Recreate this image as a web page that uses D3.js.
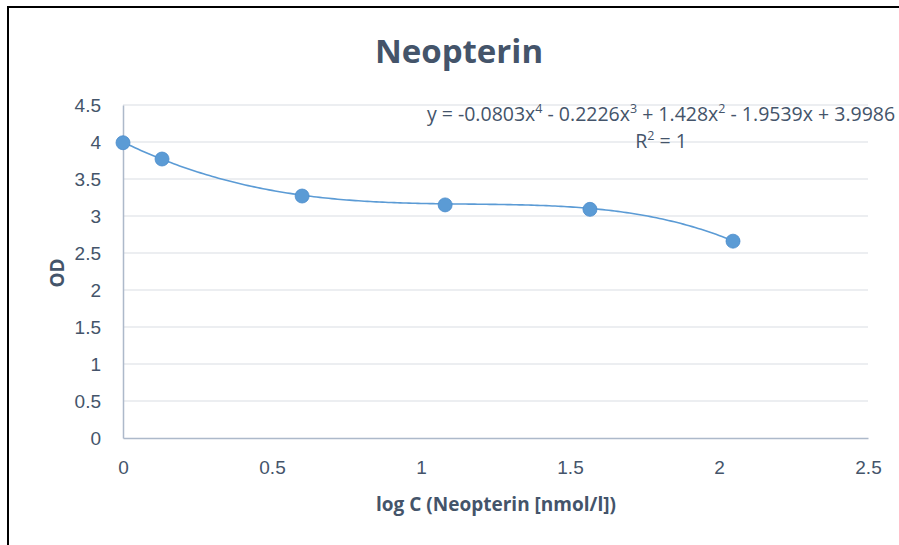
<!DOCTYPE html>
<html>
<head>
<meta charset="utf-8">
<script src="https://cdn.jsdelivr.net/npm/d3@7"></script>
<style>
  html, body { margin: 0; padding: 0; background: #fff; }
  svg { display: block; font-family: "Open Sans", "Noto Sans", sans-serif; }
</style>
</head>
<body>
<div id="chart"></div>
<script>
// values
const logC = [0, 0.131, 0.601, 1.081, 1.567, 2.047];
const od = [3.99, 3.77, 3.27, 3.15, 3.09, 2.66];
// trendline coefficients from the printed equation, constant term first
const trendCoef = [3.9986, -1.9539, 1.428, -0.2226, -0.0803];
const xTicks = [0, 0.5, 1, 1.5, 2, 2.5];
const yTicks = [0, 0.5, 1, 1.5, 2, 2.5, 3, 3.5, 4, 4.5];

const width = 899, height = 545;
const plot = {left: 123, right: 868, top: 105, bottom: 438};
const textColor = "#44546a";
const blue = "#5b9bd5";

const svg = d3.select("#chart").append("svg")
    .attr("width", width)
    .attr("height", height);

// outer frame (right and bottom edges fall outside the picture)
svg.append("path")
    .attr("d", `M8,${height} V7 H${width}`)
    .attr("fill", "none")
    .attr("stroke", "#000")
    .attr("stroke-width", 2);

const x = d3.scaleLinear().domain([0, 2.5]).range([plot.left, plot.right]);
const y = d3.scaleLinear().domain([0, 4.5]).range([plot.bottom, plot.top]);

// gridlines
svg.append("g")
    .selectAll("line")
    .data(yTicks.filter(d => d > 0))
    .join("line")
        .attr("x1", plot.left).attr("x2", plot.right)
        .attr("y1", d => y(d)).attr("y2", d => y(d))
        .attr("stroke", "#d9dde4")
        .attr("stroke-width", 1.2);

// y axis
const yAxis = svg.append("g")
    .attr("transform", `translate(${plot.left},0)`)
    .call(d3.axisLeft(y).tickValues(yTicks).tickSize(0).tickPadding(22).tickFormat(d3.format("")));
yAxis.select(".domain").attr("stroke", "#adb9ca").attr("stroke-width", 1.5);
yAxis.selectAll("text")
    .attr("fill", textColor)
    .style("font-size", "19px")
    .attr("dy", "0.35em");

// x axis
const xAxis = svg.append("g")
    .attr("transform", `translate(0,${plot.bottom})`)
    .call(d3.axisBottom(x).tickValues(xTicks).tickSize(0).tickPadding(23).tickFormat(d3.format("")));
xAxis.select(".domain").attr("stroke", "#adb9ca").attr("stroke-width", 1.5);
xAxis.selectAll("text")
    .attr("fill", textColor)
    .style("font-size", "19px");

// trendline from the fitted polynomial
const poly = v => trendCoef.reduce((s, c, i) => s + c * Math.pow(v, i), 0);
const xs = d3.range(0, d3.max(logC) + 0.0001, 0.01);
svg.append("path")
    .datum(xs)
    .attr("fill", "none")
    .attr("stroke", blue)
    .attr("stroke-width", 1.6)
    .attr("d", d3.line().x(d => x(d)).y(d => y(poly(d))));

// points
svg.append("g")
    .selectAll("circle")
    .data(logC.map((v, i) => [v, od[i]]))
    .join("circle")
        .attr("cx", d => x(d[0]))
        .attr("cy", d => y(d[1]))
        .attr("r", 7)
        .attr("fill", blue)
        .attr("stroke", "#4a8ccb")
        .attr("stroke-width", 0.8);

// title
svg.append("text")
    .attr("x", 459).attr("y", 63)
    .attr("text-anchor", "middle")
    .attr("fill", textColor)
    .style("font-size", "33px")
    .style("font-weight", "bold")
    .text("Neopterin");

// axis titles
svg.append("text")
    .attr("x", 496).attr("y", 511)
    .attr("text-anchor", "middle")
    .attr("fill", textColor)
    .style("font-size", "19px")
    .style("font-weight", "bold")
    .text("log C (Neopterin [nmol/l])");

svg.append("text")
    .attr("transform", "translate(64,273) rotate(-90)")
    .attr("text-anchor", "middle")
    .attr("fill", textColor)
    .style("font-size", "19px")
    .style("font-weight", "bold")
    .text("OD");

// trendline equation
const eq = svg.append("text")
    .attr("x", 661).attr("y", 121)
    .attr("text-anchor", "middle")
    .attr("fill", textColor)
    .style("font-size", "19.5px");
const fmt = d3.format("");
eq.append("tspan").text("y = ");
for (let i = trendCoef.length - 1; i >= 0; i--) {
  const c = trendCoef[i];
  const sign = i === trendCoef.length - 1 ? (c < 0 ? "-" : "") : (c < 0 ? " - " : " + ");
  eq.append("tspan").text(sign + fmt(Math.abs(c)) + (i > 0 ? "x" : ""));
  if (i > 1) {
    eq.append("tspan")
        .attr("baseline-shift", "super")
        .style("font-size", "12.5px")
        .text(String(i));
  }
}

const r2 = svg.append("text")
    .attr("x", 661).attr("y", 148)
    .attr("text-anchor", "middle")
    .attr("fill", textColor)
    .style("font-size", "19.5px");
r2.append("tspan").text("R");
r2.append("tspan").attr("baseline-shift", "super").style("font-size", "12.5px").text("2");
r2.append("tspan").text(" = 1");
</script>
</body>
</html>
